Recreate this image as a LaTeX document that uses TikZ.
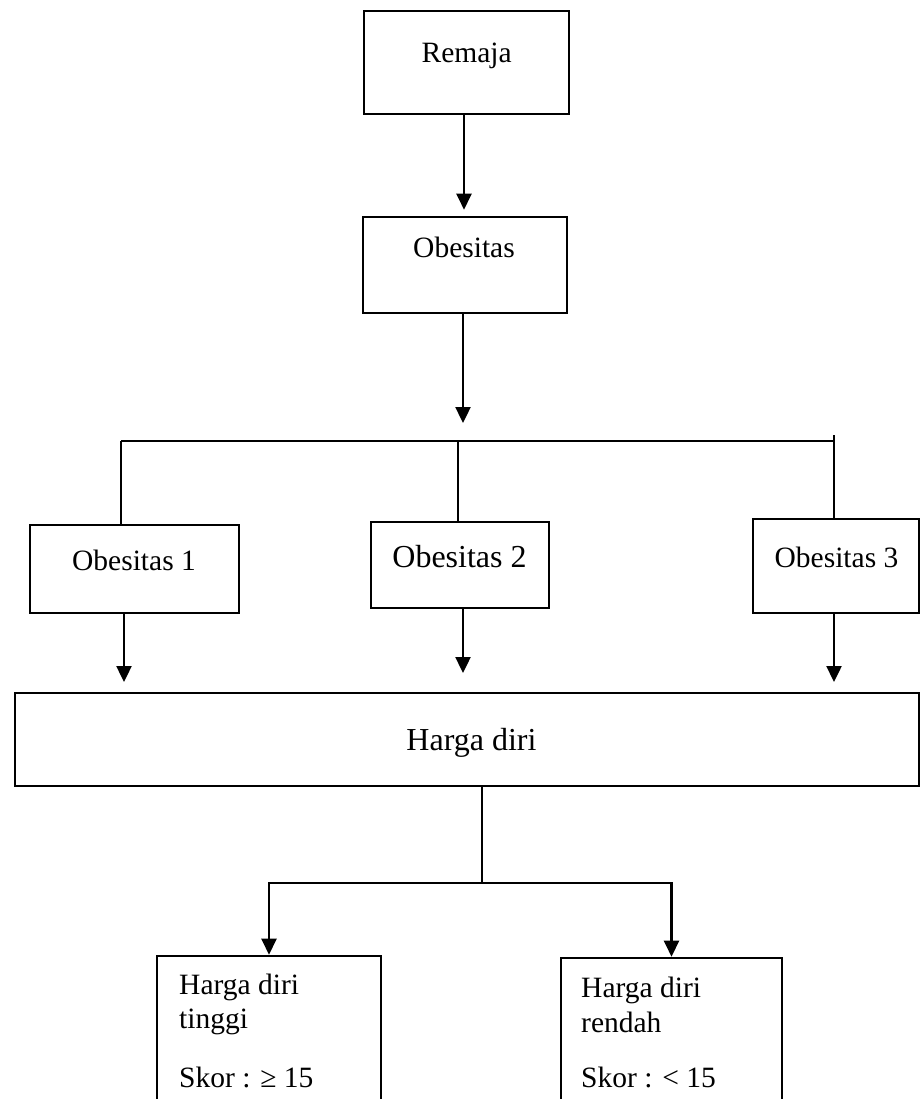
\documentclass[tikz,border=0pt]{standalone}
\usepackage{fontspec}
\setmainfont{Liberation Serif}
\usetikzlibrary{arrows.meta}
\begin{document}
\begin{tikzpicture}[x=1pt,y=-1pt,
  box/.style={draw, line width=2.6pt, inner sep=0pt},
  conn/.style={line width=2.4pt},
  arr/.style={line width=2.4pt, -{Triangle[width=15pt,length=16pt]}},
  lbl/.style={inner sep=0pt, font=\fontsize{29.5}{34}\selectfont},
  lblbig/.style={inner sep=0pt, font=\fontsize{32}{38}\selectfont}]
\useasboundingbox (0,0) rectangle (920,1099);
\clip (0,0) rectangle (920,1099);
% boxes
\node[box, minimum width=205pt, minimum height=103pt] (remaja) at (466.5,62.5) {};
\node[box, minimum width=204pt, minimum height=96pt] (obes) at (465,265) {};
\node[box, minimum width=209pt, minimum height=88pt] (ob1) at (134.5,569) {};
\node[box, minimum width=178pt, minimum height=86pt] (ob2) at (460,565) {};
\node[box, minimum width=166pt, minimum height=94pt] (ob3) at (836,566) {};
\node[box, minimum width=904pt, minimum height=93pt] (harga) at (467,739.5) {};
\node[box, minimum width=224pt, minimum height=170pt] (tinggi) at (269,1041) {};
\node[box, minimum width=221pt, minimum height=168pt] (rendah) at (671.5,1042) {};
% texts
\node[lbl, anchor=base] (tRemaja) at (466.7,63) {Remaja};
\node[lbl, anchor=base] (tObes) at (464,257) {Obesitas};
\node[lbl, anchor=base] (tOb1) at (134,570) {Obesitas 1};
\node[lblbig, anchor=base] (tOb2) at (459.5,567) {Obesitas 2};
\node[lbl, anchor=base] (tOb3) at (836.5,567) {Obesitas 3};
\node[lblbig, anchor=base] (tHarga) at (471.5,750) {Harga diri};
\node[lbl, anchor=base west] (tT1) at (179,994) {Harga diri};
\node[lbl, anchor=base west] (tT2) at (179,1028) {tinggi};
\node[lbl, anchor=base west] (tT3) at (179,1087) {Skor : ≥ 15};
\node[lbl, anchor=base west] (tR1) at (581,997) {Harga diri};
\node[lbl, anchor=base west] (tR2) at (581,1032) {rendah};
\node[lbl, anchor=base west] (tR3) at (581,1087) {Skor : < 15};
% coordinates
\coordinate (obtip) at (463,423);
\coordinate (b1) at (121,441);
\coordinate (b2) at (458,441);
\coordinate (b3) at (834,441);
\coordinate (b3top) at (834,435);
\coordinate (a1) at (124,682);
\coordinate (a2) at (463,673);
\coordinate (a3) at (834,682);
\coordinate (h1) at (482,883);
\coordinate (rx) at (464,0);
% connectors
\draw[arr, shorten >=6pt] (remaja.south -| rx) -- (obes.north -| rx);
\draw[arr] (obes.south -| obtip) -- (obtip);
\draw[conn] (b1) -- (b3);
\draw[conn] (b1) -- (b1 |- ob1.north);
\draw[conn] (b2) -- (b2 |- ob2.north);
\draw[conn] (b3top) -- (b3top |- ob3.north);
\draw[arr] (ob1.south -| a1) -- (a1);
\draw[arr] (ob2.south -| a2) -- (a2);
\draw[arr] (ob3.south -| a3) -- (a3);
\draw[conn] (harga.south -| h1) -- (h1);
\draw[arr] (h1) -| (tinggi.north);
\draw[arr] (h1) -| (rendah.north);
\end{tikzpicture}
\end{document}
